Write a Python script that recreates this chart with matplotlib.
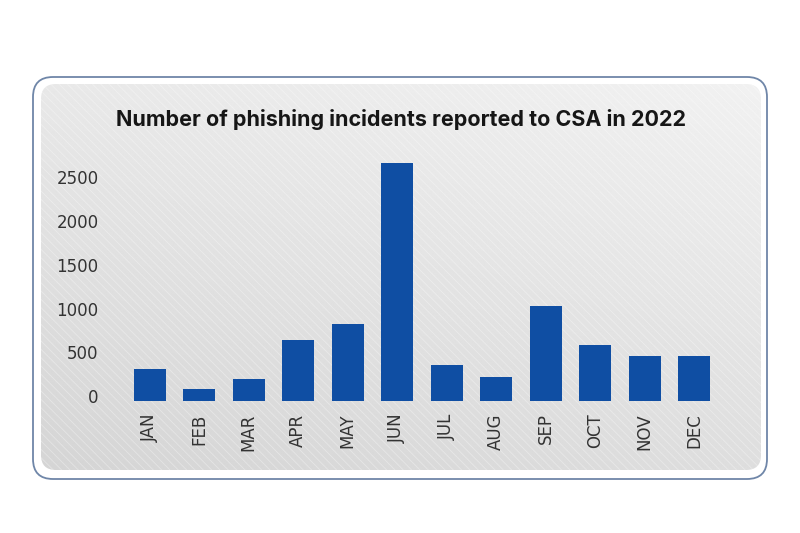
import numpy as np
import matplotlib
matplotlib.use("Agg")
import matplotlib.pyplot as plt
from matplotlib.patches import FancyBboxPatch
from matplotlib.transforms import ScaledTranslation

months = ["JAN", "FEB", "MAR", "APR", "MAY", "JUN",
          "JUL", "AUG", "SEP", "OCT", "NOV", "DEC"]
incidents = [365, 140, 250, 700, 880, 2720, 410, 275, 1085, 635, 517, 517]
yticks = [0, 500, 1000, 1500, 2000, 2500]
title = "Number of phishing incidents reported to CSA in 2022"

W, H = 800, 533
fig = plt.figure(figsize=(W / 100, H / 100), dpi=100)
fig.patch.set_facecolor("white")

# background panel in pixel coordinates
bg = fig.add_axes([0, 0, 1, 1])
bg.set_xlim(0, W)
bg.set_ylim(H, 0)
bg.axis("off")

outer = FancyBboxPatch((33 + 20, 77 + 20), 734 - 40, 402 - 40,
                       boxstyle="round,pad=20", fc="white", ec="#6f86a8", lw=1.3)
bg.add_patch(outer)

inner = FancyBboxPatch((41 + 15, 84 + 15), 720 - 30, 386 - 30,
                       boxstyle="round,pad=15", fc="none", ec="none")
bg.add_patch(inner)

yy, xx = np.mgrid[0:1:200j, 0:1:300j]
grad = 0.945 - 0.075 * yy - 0.035 * (1 - xx)
img = bg.imshow(grad, cmap="gray", vmin=0, vmax=1, extent=(41, 761, 470, 84),
                aspect="auto", interpolation="bicubic", zorder=1)
img.set_clip_path(inner)

plt.rcParams["hatch.linewidth"] = 0.6
tex = FancyBboxPatch((41 + 15, 84 + 15), 720 - 30, 386 - 30,
                     boxstyle="round,pad=15", fc="none", ec=(1, 1, 1, 0.35),
                     lw=0, hatch="\\\\\\\\", zorder=2)
bg.add_patch(tex)

bg.text(401, 120, title, ha="center", va="center", fontsize=15.5,
        fontweight="bold", family=["Inter", "DejaVu Sans"], color="#161616", zorder=3)

# bar chart
ax = fig.add_axes([125 / W, (H - 401) / H, 594 / W, 245 / H])
ax.patch.set_alpha(0)
x = np.arange(len(months))
ax.bar(x, incidents, width=0.65, color="#0f4ea3", zorder=3)
ax.set_xlim(-0.5, len(months) - 0.5)
ax.set_ylim(0, 2800)
ax.set_yticks(yticks)
ax.set_xticks(x)
ax.set_xticklabels(months, rotation=90)
for s in ax.spines.values():
    s.set_visible(False)
ax.tick_params(axis="y", length=0, pad=19, labelsize=12, labelcolor="#333333")
ax.tick_params(axis="x", length=0, pad=9, labelsize=12, labelcolor="#333333")

# y labels sit a little above their gridline in the original
shift = ScaledTranslation(0, 5 / 100, fig.dpi_scale_trans)
for lbl in ax.get_yticklabels():
    lbl.set_transform(lbl.get_transform() + shift)

fig.savefig("out.png", dpi=100)
